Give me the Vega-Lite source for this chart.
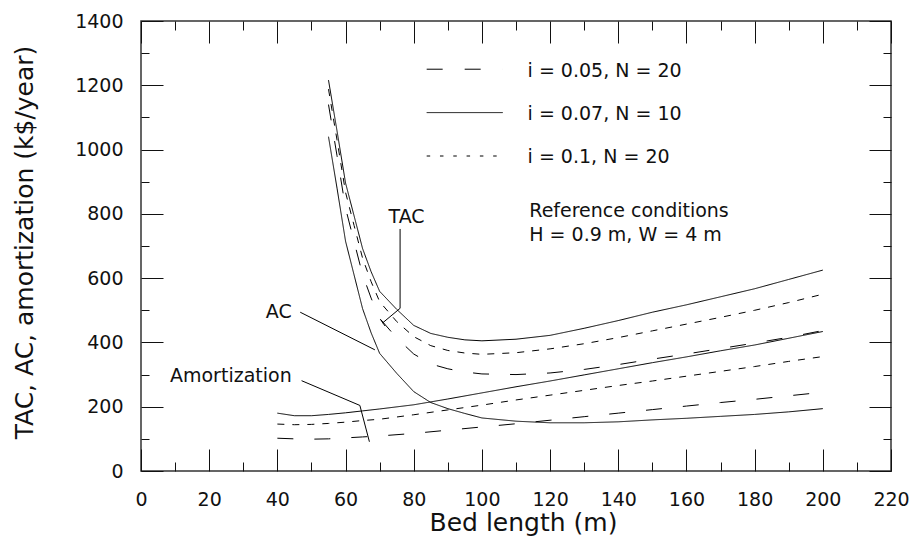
{
"$schema": "https://vega.github.io/schema/vega-lite/v6.json",
"width": 750,
"height": 450,
"autosize": {"type": "none"},
"padding": {"left": 141, "top": 21, "right": 19, "bottom": 67},
"background": "white",
"config": {
  "view": {"stroke": "#333", "strokeWidth": 1.5},
  "font": "DejaVu Sans",
  "axis": {"grid": false, "domain": false, "tickColor": "#111", "tickWidth": 1, "labelFont": "DejaVu Sans", "labelFontSize": 19, "labelColor": "#111", "titleFont": "DejaVu Sans", "titleFontSize": 25, "titleFontWeight": "normal", "titleColor": "#111", "labelOverlap": false, "labelFlush": false}
},
"datasets": {
  "curves": [
    {"length": 55, "cost": 1040, "curve": "AC", "case": "all cases"},
    {"length": 57.5, "cost": 880, "curve": "AC", "case": "all cases"},
    {"length": 60, "cost": 715, "curve": "AC", "case": "all cases"},
    {"length": 62.5, "cost": 610, "curve": "AC", "case": "all cases"},
    {"length": 65, "cost": 505, "curve": "AC", "case": "all cases"},
    {"length": 67.5, "cost": 430, "curve": "AC", "case": "all cases"},
    {"length": 70, "cost": 366, "curve": "AC", "case": "all cases"},
    {"length": 75, "cost": 304, "curve": "AC", "case": "all cases"},
    {"length": 80, "cost": 247, "curve": "AC", "case": "all cases"},
    {"length": 85, "cost": 213, "curve": "AC", "case": "all cases"},
    {"length": 90, "cost": 194, "curve": "AC", "case": "all cases"},
    {"length": 95, "cost": 179, "curve": "AC", "case": "all cases"},
    {"length": 100, "cost": 165, "curve": "AC", "case": "all cases"},
    {"length": 110, "cost": 155, "curve": "AC", "case": "all cases"},
    {"length": 120, "cost": 150, "curve": "AC", "case": "all cases"},
    {"length": 130, "cost": 150, "curve": "AC", "case": "all cases"},
    {"length": 140, "cost": 153, "curve": "AC", "case": "all cases"},
    {"length": 150, "cost": 159, "curve": "AC", "case": "all cases"},
    {"length": 160, "cost": 164, "curve": "AC", "case": "all cases"},
    {"length": 170, "cost": 170, "curve": "AC", "case": "all cases"},
    {"length": 180, "cost": 176, "curve": "AC", "case": "all cases"},
    {"length": 190, "cost": 184, "curve": "AC", "case": "all cases"},
    {"length": 200, "cost": 194, "curve": "AC", "case": "all cases"},

    {"length": 55, "cost": 1216, "curve": "TAC", "case": "i = 0.07, N = 10"},
    {"length": 57.5, "cost": 1058, "curve": "TAC", "case": "i = 0.07, N = 10"},
    {"length": 60, "cost": 896, "curve": "TAC", "case": "i = 0.07, N = 10"},
    {"length": 62.5, "cost": 794, "curve": "TAC", "case": "i = 0.07, N = 10"},
    {"length": 65, "cost": 692, "curve": "TAC", "case": "i = 0.07, N = 10"},
    {"length": 67.5, "cost": 620, "curve": "TAC", "case": "i = 0.07, N = 10"},
    {"length": 70, "cost": 559, "curve": "TAC", "case": "i = 0.07, N = 10"},
    {"length": 75, "cost": 503, "curve": "TAC", "case": "i = 0.07, N = 10"},
    {"length": 80, "cost": 453, "curve": "TAC", "case": "i = 0.07, N = 10"},
    {"length": 85, "cost": 428, "curve": "TAC", "case": "i = 0.07, N = 10"},
    {"length": 90, "cost": 416, "curve": "TAC", "case": "i = 0.07, N = 10"},
    {"length": 95, "cost": 408, "curve": "TAC", "case": "i = 0.07, N = 10"},
    {"length": 100, "cost": 405, "curve": "TAC", "case": "i = 0.07, N = 10"},
    {"length": 110, "cost": 410, "curve": "TAC", "case": "i = 0.07, N = 10"},
    {"length": 120, "cost": 422, "curve": "TAC", "case": "i = 0.07, N = 10"},
    {"length": 130, "cost": 444, "curve": "TAC", "case": "i = 0.07, N = 10"},
    {"length": 140, "cost": 468, "curve": "TAC", "case": "i = 0.07, N = 10"},
    {"length": 150, "cost": 494, "curve": "TAC", "case": "i = 0.07, N = 10"},
    {"length": 160, "cost": 517, "curve": "TAC", "case": "i = 0.07, N = 10"},
    {"length": 170, "cost": 542, "curve": "TAC", "case": "i = 0.07, N = 10"},
    {"length": 180, "cost": 567, "curve": "TAC", "case": "i = 0.07, N = 10"},
    {"length": 190, "cost": 596, "curve": "TAC", "case": "i = 0.07, N = 10"},
    {"length": 200, "cost": 625, "curve": "TAC", "case": "i = 0.07, N = 10"},

    {"length": 55, "cost": 1188, "curve": "TAC", "case": "i = 0.1, N = 20"},
    {"length": 57.5, "cost": 1030, "curve": "TAC", "case": "i = 0.1, N = 20"},
    {"length": 60, "cost": 867, "curve": "TAC", "case": "i = 0.1, N = 20"},
    {"length": 62.5, "cost": 764, "curve": "TAC", "case": "i = 0.1, N = 20"},
    {"length": 65, "cost": 662, "curve": "TAC", "case": "i = 0.1, N = 20"},
    {"length": 67.5, "cost": 589, "curve": "TAC", "case": "i = 0.1, N = 20"},
    {"length": 70, "cost": 527, "curve": "TAC", "case": "i = 0.1, N = 20"},
    {"length": 75, "cost": 465, "curve": "TAC", "case": "i = 0.1, N = 20"},
    {"length": 80, "cost": 418, "curve": "TAC", "case": "i = 0.1, N = 20"},
    {"length": 85, "cost": 390, "curve": "TAC", "case": "i = 0.1, N = 20"},
    {"length": 90, "cost": 375, "curve": "TAC", "case": "i = 0.1, N = 20"},
    {"length": 95, "cost": 367, "curve": "TAC", "case": "i = 0.1, N = 20"},
    {"length": 100, "cost": 363, "curve": "TAC", "case": "i = 0.1, N = 20"},
    {"length": 110, "cost": 368, "curve": "TAC", "case": "i = 0.1, N = 20"},
    {"length": 120, "cost": 380, "curve": "TAC", "case": "i = 0.1, N = 20"},
    {"length": 130, "cost": 396, "curve": "TAC", "case": "i = 0.1, N = 20"},
    {"length": 140, "cost": 415, "curve": "TAC", "case": "i = 0.1, N = 20"},
    {"length": 150, "cost": 436, "curve": "TAC", "case": "i = 0.1, N = 20"},
    {"length": 160, "cost": 457, "curve": "TAC", "case": "i = 0.1, N = 20"},
    {"length": 170, "cost": 478, "curve": "TAC", "case": "i = 0.1, N = 20"},
    {"length": 180, "cost": 500, "curve": "TAC", "case": "i = 0.1, N = 20"},
    {"length": 190, "cost": 524, "curve": "TAC", "case": "i = 0.1, N = 20"},
    {"length": 200, "cost": 550, "curve": "TAC", "case": "i = 0.1, N = 20"},

    {"length": 55, "cost": 1140, "curve": "TAC", "case": "i = 0.05, N = 20"},
    {"length": 57.5, "cost": 981, "curve": "TAC", "case": "i = 0.05, N = 20"},
    {"length": 60, "cost": 818, "curve": "TAC", "case": "i = 0.05, N = 20"},
    {"length": 62.5, "cost": 714, "curve": "TAC", "case": "i = 0.05, N = 20"},
    {"length": 65, "cost": 611, "curve": "TAC", "case": "i = 0.05, N = 20"},
    {"length": 67.5, "cost": 538, "curve": "TAC", "case": "i = 0.05, N = 20"},
    {"length": 70, "cost": 475, "curve": "TAC", "case": "i = 0.05, N = 20"},
    {"length": 75, "cost": 414, "curve": "TAC", "case": "i = 0.05, N = 20"},
    {"length": 80, "cost": 364, "curve": "TAC", "case": "i = 0.05, N = 20"},
    {"length": 85, "cost": 333, "curve": "TAC", "case": "i = 0.05, N = 20"},
    {"length": 90, "cost": 318, "curve": "TAC", "case": "i = 0.05, N = 20"},
    {"length": 95, "cost": 308, "curve": "TAC", "case": "i = 0.05, N = 20"},
    {"length": 100, "cost": 302, "curve": "TAC", "case": "i = 0.05, N = 20"},
    {"length": 110, "cost": 300, "curve": "TAC", "case": "i = 0.05, N = 20"},
    {"length": 120, "cost": 305, "curve": "TAC", "case": "i = 0.05, N = 20"},
    {"length": 130, "cost": 316, "curve": "TAC", "case": "i = 0.05, N = 20"},
    {"length": 140, "cost": 331, "curve": "TAC", "case": "i = 0.05, N = 20"},
    {"length": 150, "cost": 348, "curve": "TAC", "case": "i = 0.05, N = 20"},
    {"length": 160, "cost": 364, "curve": "TAC", "case": "i = 0.05, N = 20"},
    {"length": 170, "cost": 381, "curve": "TAC", "case": "i = 0.05, N = 20"},
    {"length": 180, "cost": 398, "curve": "TAC", "case": "i = 0.05, N = 20"},
    {"length": 190, "cost": 416, "curve": "TAC", "case": "i = 0.05, N = 20"},
    {"length": 200, "cost": 437, "curve": "TAC", "case": "i = 0.05, N = 20"},

    {"length": 40, "cost": 180, "curve": "Amortization", "case": "i = 0.07, N = 10"},
    {"length": 45, "cost": 172, "curve": "Amortization", "case": "i = 0.07, N = 10"},
    {"length": 50, "cost": 172, "curve": "Amortization", "case": "i = 0.07, N = 10"},
    {"length": 55, "cost": 176, "curve": "Amortization", "case": "i = 0.07, N = 10"},
    {"length": 60, "cost": 181, "curve": "Amortization", "case": "i = 0.07, N = 10"},
    {"length": 65, "cost": 187, "curve": "Amortization", "case": "i = 0.07, N = 10"},
    {"length": 70, "cost": 193, "curve": "Amortization", "case": "i = 0.07, N = 10"},
    {"length": 80, "cost": 206, "curve": "Amortization", "case": "i = 0.07, N = 10"},
    {"length": 90, "cost": 224, "curve": "Amortization", "case": "i = 0.07, N = 10"},
    {"length": 100, "cost": 243, "curve": "Amortization", "case": "i = 0.07, N = 10"},
    {"length": 110, "cost": 262, "curve": "Amortization", "case": "i = 0.07, N = 10"},
    {"length": 120, "cost": 280, "curve": "Amortization", "case": "i = 0.07, N = 10"},
    {"length": 130, "cost": 299, "curve": "Amortization", "case": "i = 0.07, N = 10"},
    {"length": 140, "cost": 318, "curve": "Amortization", "case": "i = 0.07, N = 10"},
    {"length": 150, "cost": 337, "curve": "Amortization", "case": "i = 0.07, N = 10"},
    {"length": 160, "cost": 355, "curve": "Amortization", "case": "i = 0.07, N = 10"},
    {"length": 170, "cost": 374, "curve": "Amortization", "case": "i = 0.07, N = 10"},
    {"length": 180, "cost": 392, "curve": "Amortization", "case": "i = 0.07, N = 10"},
    {"length": 190, "cost": 413, "curve": "Amortization", "case": "i = 0.07, N = 10"},
    {"length": 200, "cost": 434, "curve": "Amortization", "case": "i = 0.07, N = 10"},

    {"length": 40, "cost": 146, "curve": "Amortization", "case": "i = 0.1, N = 20"},
    {"length": 45, "cost": 144, "curve": "Amortization", "case": "i = 0.1, N = 20"},
    {"length": 50, "cost": 145, "curve": "Amortization", "case": "i = 0.1, N = 20"},
    {"length": 55, "cost": 148, "curve": "Amortization", "case": "i = 0.1, N = 20"},
    {"length": 60, "cost": 152, "curve": "Amortization", "case": "i = 0.1, N = 20"},
    {"length": 65, "cost": 157, "curve": "Amortization", "case": "i = 0.1, N = 20"},
    {"length": 70, "cost": 161, "curve": "Amortization", "case": "i = 0.1, N = 20"},
    {"length": 80, "cost": 175, "curve": "Amortization", "case": "i = 0.1, N = 20"},
    {"length": 90, "cost": 190, "curve": "Amortization", "case": "i = 0.1, N = 20"},
    {"length": 100, "cost": 205, "curve": "Amortization", "case": "i = 0.1, N = 20"},
    {"length": 110, "cost": 221, "curve": "Amortization", "case": "i = 0.1, N = 20"},
    {"length": 120, "cost": 236, "curve": "Amortization", "case": "i = 0.1, N = 20"},
    {"length": 130, "cost": 251, "curve": "Amortization", "case": "i = 0.1, N = 20"},
    {"length": 140, "cost": 266, "curve": "Amortization", "case": "i = 0.1, N = 20"},
    {"length": 150, "cost": 280, "curve": "Amortization", "case": "i = 0.1, N = 20"},
    {"length": 160, "cost": 295, "curve": "Amortization", "case": "i = 0.1, N = 20"},
    {"length": 170, "cost": 310, "curve": "Amortization", "case": "i = 0.1, N = 20"},
    {"length": 180, "cost": 325, "curve": "Amortization", "case": "i = 0.1, N = 20"},
    {"length": 190, "cost": 341, "curve": "Amortization", "case": "i = 0.1, N = 20"},
    {"length": 200, "cost": 356, "curve": "Amortization", "case": "i = 0.1, N = 20"},

    {"length": 40, "cost": 102, "curve": "Amortization", "case": "i = 0.05, N = 20"},
    {"length": 45, "cost": 100, "curve": "Amortization", "case": "i = 0.05, N = 20"},
    {"length": 50, "cost": 99, "curve": "Amortization", "case": "i = 0.05, N = 20"},
    {"length": 55, "cost": 100, "curve": "Amortization", "case": "i = 0.05, N = 20"},
    {"length": 60, "cost": 103, "curve": "Amortization", "case": "i = 0.05, N = 20"},
    {"length": 65, "cost": 106, "curve": "Amortization", "case": "i = 0.05, N = 20"},
    {"length": 70, "cost": 109, "curve": "Amortization", "case": "i = 0.05, N = 20"},
    {"length": 80, "cost": 117, "curve": "Amortization", "case": "i = 0.05, N = 20"},
    {"length": 90, "cost": 127, "curve": "Amortization", "case": "i = 0.05, N = 20"},
    {"length": 100, "cost": 137, "curve": "Amortization", "case": "i = 0.05, N = 20"},
    {"length": 110, "cost": 147, "curve": "Amortization", "case": "i = 0.05, N = 20"},
    {"length": 120, "cost": 158, "curve": "Amortization", "case": "i = 0.05, N = 20"},
    {"length": 130, "cost": 169, "curve": "Amortization", "case": "i = 0.05, N = 20"},
    {"length": 140, "cost": 180, "curve": "Amortization", "case": "i = 0.05, N = 20"},
    {"length": 150, "cost": 191, "curve": "Amortization", "case": "i = 0.05, N = 20"},
    {"length": 160, "cost": 202, "curve": "Amortization", "case": "i = 0.05, N = 20"},
    {"length": 170, "cost": 213, "curve": "Amortization", "case": "i = 0.05, N = 20"},
    {"length": 180, "cost": 223, "curve": "Amortization", "case": "i = 0.05, N = 20"},
    {"length": 190, "cost": 234, "curve": "Amortization", "case": "i = 0.05, N = 20"},
    {"length": 200, "cost": 245, "curve": "Amortization", "case": "i = 0.05, N = 20"}
  ],
  "leaders": [
    {"id": "TAC", "ord": 1, "x": 76, "y": 753},
    {"id": "TAC", "ord": 2, "x": 76, "y": 506},
    {"id": "TAC", "ord": 3, "x": 70.9, "y": 461},
    {"id": "TAC end", "ord": 1, "x": 70.2, "y": 472},
    {"id": "TAC end", "ord": 2, "x": 71.6, "y": 451},
    {"id": "AC", "ord": 1, "x": 46.7, "y": 494},
    {"id": "AC", "ord": 2, "x": 68.6, "y": 377},
    {"id": "Amortization", "ord": 1, "x": 47.1, "y": 281},
    {"id": "Amortization", "ord": 2, "x": 64.2, "y": 204},
    {"id": "Amortization", "ord": 3, "x": 67.0, "y": 91}
  ],
  "key": [
    {"case": "i = 0.05, N = 20", "from": 83.8, "to": 106.1, "level": 1250},
    {"case": "i = 0.07, N = 10", "from": 83.8, "to": 106.1, "level": 1115},
    {"case": "i = 0.1, N = 20", "from": 83.8, "to": 106.1, "level": 980}
  ],
  "leftnotes": [
    {"text": "i = 0.05, N = 20", "x": 113.4, "y": 1227},
    {"text": "i = 0.07, N = 10", "x": 113.4, "y": 1092},
    {"text": "i = 0.1, N = 20", "x": 113.4, "y": 957},
    {"text": "Reference conditions", "x": 113.9, "y": 791},
    {"text": "H = 0.9 m, W = 4 m", "x": 113.9, "y": 717}
  ],
  "rightnotes": [
    {"text": "AC", "x": 44.2, "y": 475},
    {"text": "Amortization", "x": 44.2, "y": 278}
  ],
  "centernotes": [
    {"text": "TAC", "x": 77.9, "y": 771}
  ]
},
"layer": [
  {
    "data": {"name": "curves"},
    "mark": {"type": "line", "color": "#000", "strokeWidth": 1, "clip": true},
    "encoding": {
      "x": {"field": "length", "type": "quantitative", "scale": {"domain": [0, 220], "nice": false, "zero": false},
        "axis": {"orient": "bottom", "values": [0,20,40,60,80,100,120,140,160,180,200,220],
          "format": "d", "offset": -22, "tickSize": 22, "labelPadding": 19,
          "title": "Bed length (m)", "titleX": 382, "titleY": 81, "titleAlign": "center", "titleBaseline": "alphabetic"}},
      "y": {"field": "cost", "type": "quantitative", "scale": {"domain": [0, 1400], "nice": false},
        "axis": {"orient": "left", "values": [0,200,400,600,800,1000,1200,1400],
          "format": "d", "offset": -22, "tickSize": 22, "labelPadding": 18,
          "title": "TAC, AC, amortization (k$/year)", "titleX": -131, "titleY": 221, "titleAngle": 270, "titleAlign": "center", "titleBaseline": "alphabetic"}},
      "strokeDash": {"field": "case", "type": "nominal",
        "scale": {"domain": ["i = 0.05, N = 20", "i = 0.07, N = 10", "i = 0.1, N = 20", "all cases"], "range": [[16, 21], [1, 0], [7, 8], [1, 0]]},
        "legend": null},
      "detail": {"field": "curve"},
      "order": {"field": "length", "type": "quantitative"}
    }
  },
  {
    "data": {"name": "leaders"},
    "mark": {"type": "line", "color": "#000", "strokeWidth": 1},
    "encoding": {
      "x": {"field": "x", "type": "quantitative", "scale": {"domain": [0, 220], "nice": false, "zero": false},
        "axis": {"orient": "top", "values": [0,20,40,60,80,100,120,140,160,180,200,220], "labels": false, "title": null, "offset": -22, "tickSize": 22}},
      "y": {"field": "y", "type": "quantitative", "scale": {"domain": [0, 1400], "nice": false},
        "axis": {"orient": "right", "values": [0,200,400,600,800,1000,1200,1400], "labels": false, "title": null, "offset": -22, "tickSize": 22}},
      "detail": {"field": "id"},
      "order": {"field": "ord", "type": "quantitative"}
    }
  },
  {
    "data": {"name": "key"},
    "mark": {"type": "rule", "color": "#000", "strokeWidth": 1},
    "encoding": {
      "x": {"field": "from", "type": "quantitative",
        "axis": {"orient": "bottom", "values": [10,30,50,70,90,110,130,150,170,190,210], "labels": false, "title": null, "offset": -9, "tickSize": 9}},
      "x2": {"field": "to"},
      "y": {"field": "level", "type": "quantitative",
        "axis": {"orient": "left", "values": [100,300,500,700,900,1100,1300], "labels": false, "title": null, "offset": -8, "tickSize": 8}},
      "strokeDash": {"field": "case", "type": "nominal",
        "scale": {"domain": ["i = 0.05, N = 20", "i = 0.07, N = 10", "i = 0.1, N = 20"], "range": [[16, 22], [1, 0], [3.5, 9.8]]},
        "legend": null}
    }
  },
  {
    "data": {"name": "leftnotes"},
    "mark": {"type": "text", "align": "left", "baseline": "alphabetic", "font": "DejaVu Sans", "fontSize": 19, "color": "#111"},
    "encoding": {
      "x": {"field": "x", "type": "quantitative",
        "axis": {"orient": "top", "values": [10,30,50,70,90,110,130,150,170,190,210], "labels": false, "title": null, "offset": -9, "tickSize": 9}},
      "y": {"field": "y", "type": "quantitative",
        "axis": {"orient": "right", "values": [100,300,500,700,900,1100,1300], "labels": false, "title": null, "offset": -8, "tickSize": 8}},
      "text": {"field": "text"}
    }
  },
  {
    "data": {"name": "rightnotes"},
    "mark": {"type": "text", "align": "right", "baseline": "alphabetic", "font": "DejaVu Sans", "fontSize": 19, "color": "#111"},
    "encoding": {
      "x": {"field": "x", "type": "quantitative", "axis": null},
      "y": {"field": "y", "type": "quantitative", "axis": null},
      "text": {"field": "text"}
    }
  },
  {
    "data": {"name": "centernotes"},
    "mark": {"type": "text", "align": "center", "baseline": "alphabetic", "font": "DejaVu Sans", "fontSize": 19, "color": "#111"},
    "encoding": {
      "x": {"field": "x", "type": "quantitative", "axis": null},
      "y": {"field": "y", "type": "quantitative", "axis": null},
      "text": {"field": "text"}
    }
  }
],
"resolve": {"axis": {"x": "independent", "y": "independent"}, "scale": {"strokeDash": "independent"}}
}
